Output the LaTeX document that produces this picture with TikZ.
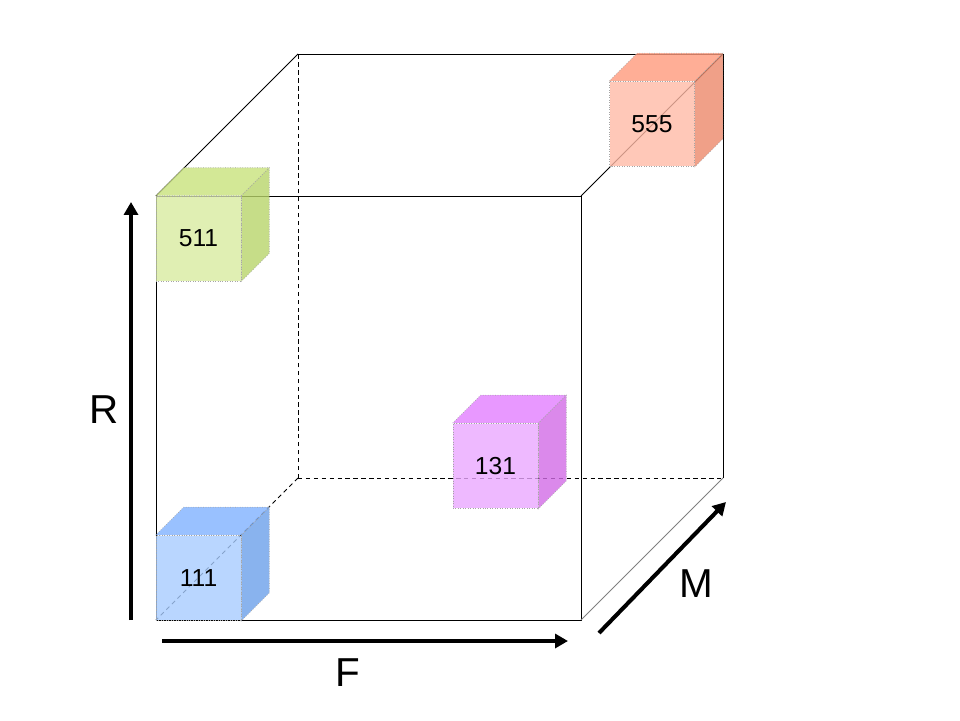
\documentclass[tikz,border=0pt]{standalone}
\usepackage{fontspec}
\setmainfont{Liberation Sans}
\usetikzlibrary{arrows.meta, calc}

\definecolor{greenfront}{HTML}{D8EBA0}
\definecolor{greentop}{HTML}{C8E27C}
\definecolor{greenside}{HTML}{B8D46A}
\definecolor{redfront}{HTML}{FFBAA6}
\definecolor{redtop}{HTML}{FF9A7C}
\definecolor{redside}{HTML}{EC886A}
\definecolor{pinkfront}{HTML}{EAA8FF}
\definecolor{pinktop}{HTML}{E27EFF}
\definecolor{pinkside}{HTML}{D26CE6}
\definecolor{bluefront}{HTML}{A8CCFF}
\definecolor{bluetop}{HTML}{80B2FF}
\definecolor{blueside}{HTML}{6CA0EA}

\begin{document}
\begin{tikzpicture}[
        x=0.02cm, y=-0.02cm,
        edge/.style={
            draw=black, line width=0.5pt
        },
        hidden/.style={
            draw=black, line width=0.5pt, dash pattern=on 2.5pt off 2pt
        },
        cell/.style n args={3}{
            rectangle, draw=gray!70, densely dotted, fill=#1,
            fill opacity=0.8, text opacity=1,
            minimum size=1.7cm, inner sep=0pt,
            font=\fontsize{14}{16}\selectfont,
            append after command={
                \pgfextra{
                    \filldraw[draw=gray!70, densely dotted, fill=#2, fill opacity=0.8] (\tikzlastnode.north west) -- ++(28,-28) -- ($(\tikzlastnode.north east)+(28,-28)$) -- (\tikzlastnode.north east) -- cycle;
                    \filldraw[draw=gray!70, densely dotted, fill=#3, fill opacity=0.8] (\tikzlastnode.north east) -- ($(\tikzlastnode.north east)+(28,-28)$) -- ($(\tikzlastnode.south east)+(28,-28)$) -- (\tikzlastnode.south east) -- cycle;
                }
            }
        },
        axis/.style={
            draw=black, line width=2.3pt, -{Triangle[length=0.26cm, width=0.28cm]}
        },
        axislabel/.style={
            font=\fontsize{23}{26}\selectfont
        }
    ]
        \useasboundingbox (0,0) rectangle (960,720);

        % ----------------------------------------------------
        % Big cube: corners
        % ----------------------------------------------------
        \coordinate (ftl) at (156,196);
        \coordinate (ftr) at (581,196);
        \coordinate (fbl) at (156,620);
        \coordinate (fbr) at (581,620);
        \coordinate (btl) at (298,54);
        \coordinate (btr) at (723,54);
        \coordinate (bbl) at (298,478);
        \coordinate (bbr) at (723,478);

        % hidden edges
        \draw[hidden] (bbl) -- (btl);
        \draw[hidden] (bbl) -- (bbr);
        \draw[hidden] (bbl) -- (fbl);

        % visible edges
        \draw[edge] (ftl) -- (ftr) -- (fbr) -- (fbl) -- cycle;
        \draw[edge] (btl) -- (btr) -- (bbr);
        \draw[edge] (ftl) -- (btl);
        \draw[edge] (ftr) -- (btr);
        \draw[edge, draw=gray] (fbr) -- (bbr);

        % ----------------------------------------------------
        % Small cubes
        % ----------------------------------------------------
        \node[cell={greenfront}{greentop}{greenside}] (c511) at (198.5,238.5) {511};
        \node[cell={redfront}{redtop}{redside}] (c555) at (652,124) {555};
        \node[cell={pinkfront}{pinktop}{pinkside}] (c131) at (495.5,466) {131};
        \node[cell={bluefront}{bluetop}{blueside}] (c111) at (198.5,578) {111};

        % ----------------------------------------------------
        % Axes
        % ----------------------------------------------------
        \coordinate (rtail) at (131,620);
        \coordinate (rhead) at (131,202);
        \coordinate (ftail) at (162,641);
        \coordinate (fhead) at (568,641);
        \coordinate (mtail) at (599,633);
        \coordinate (mhead) at (726,502);

        \draw[axis] (rtail) -- (rhead);
        \draw[axis] (ftail) -- (fhead);
        \draw[axis] (mtail) -- (mhead);

        \node[axislabel] (rlabel) at (104,410) {R};
        \node[axislabel] (flabel) at (348,673) {F};
        \node[axislabel] (mlabel) at (696,584) {M};

    \end{tikzpicture}
\end{document}
